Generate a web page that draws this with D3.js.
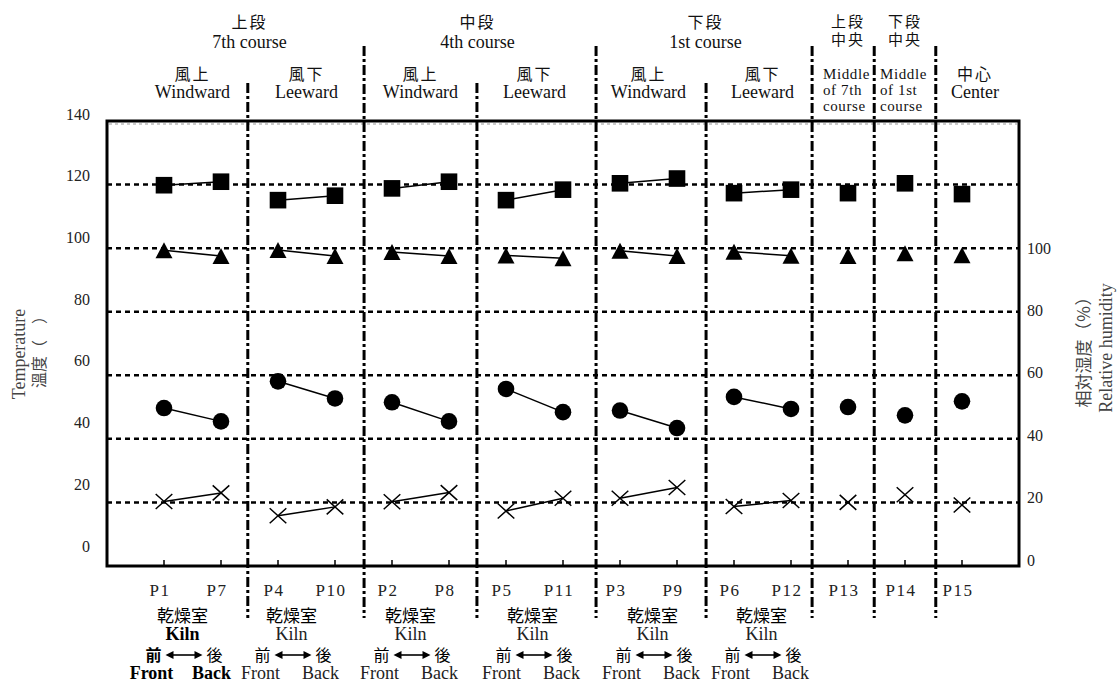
<!DOCTYPE html>
<html><head><meta charset="utf-8">
<script src="https://cdn.jsdelivr.net/npm/d3@7"></script>
<style>html,body{margin:0;padding:0;background:#fff}</style>
</head><body><div id="chart"></div>
<script>
// ---------- data ----------
const points = ["P1","P7","P4","P10","P2","P8","P5","P11","P3","P9","P6","P12","P13","P14","P15"];
const squareVals   = [119.8,120.9,115.1,116.5,118.8,120.9,115.1,118.4,120.4,121.9,117.3,118.4,117.3,120.4,117.0];
const triangleVals = [99.3,97.5,99.4,97.5,98.8,97.5,97.7,96.8,99.2,97.5,98.9,97.6,97.5,98.4,97.8];
const circleVals   = [49.7,45.5,58.1,52.7,51.5,45.5,55.7,48.4,48.9,43.4,53.2,49.4,50.0,47.4,51.8];
const crossVals    = [20.3,23.0,15.8,18.6,20.2,23.1,17.3,21.3,21.3,24.7,18.7,20.6,20.0,22.4,19.2];
const pairs = [[0,1],[2,3],[4,5],[6,7],[8,9],[10,11]];
const leftTicks  = [0,20,40,60,80,100,120,140];
const rightTicks = [0,20,40,60,80,100];
const gridVals   = [20,40,60,80,100,120];
// boundaries between categories, in category-index units
const dividers = [
  {at:1.47, major:false},{at:3.51, major:true},{at:5.49, major:false},{at:7.58, major:true},
  {at:9.51, major:false},{at:11.37, major:true},{at:12.46, major:true},{at:13.54, major:true}];
const courseLabels = [
  {jp:"上段", en:"7th course", span:[0,3]},
  {jp:"中段", en:"4th course", span:[4,7]},
  {jp:"下段", en:"1st course", span:[8,11]}];
const sideLabels = [
  {jp:"風上", en:"Windward", pair:0},{jp:"風下", en:"Leeward", pair:1},
  {jp:"風上", en:"Windward", pair:2},{jp:"風下", en:"Leeward", pair:3},
  {jp:"風上", en:"Windward", pair:4},{jp:"風下", en:"Leeward", pair:5}];
const middleLabels = [
  {jp:["上段","中央"], en:["Middle","of 7th","course"], idx:12},
  {jp:["下段","中央"], en:["Middle","of 1st","course"], idx:13}];
const centerLabel = {jp:"中心", en:"Center", idx:14};
const kilnShift = [-10,-15,-10,-2,4,-1];

// ---------- setup ----------
const W = 1120, H = 683;
const serif = "'Liberation Serif','Times New Roman',serif";
const cjk = "'Noto Sans CJK JP','Noto Sans CJK SC',sans-serif";
const svg = d3.select("#chart").append("svg").attr("width", W).attr("height", H)
  .style("background","#fff");

const x = d3.scalePoint().domain(points).range([107,1019]).padding(1);
const xi = d3.scaleLinear().domain([0, points.length-1]).range([x(points[0]), x(points[points.length-1])]);
const y = d3.scaleLinear().domain([0,140]).range([566,121]);
const yLabL = d3.scaleLinear().domain([0,140]).range([546,114]);
const yLabR = d3.scaleLinear().domain([0,100]).range([560,248]);
const pairMid = p => (x(points[pairs[p][0]]) + x(points[pairs[p][1]]))/2;

// grid lines
svg.append("g").selectAll("line").data(gridVals).join("line")
  .attr("x1",107).attr("x2",1019).attr("y1",d=>y(d)).attr("y2",d=>y(d))
  .attr("stroke","#000").attr("stroke-width",2.5).attr("stroke-dasharray","5,4");
svg.append("line").attr("x1",109).attr("x2",1017).attr("y1",y(140)+3).attr("y2",y(140)+3)
  .attr("stroke","#999").attr("stroke-width",1).attr("stroke-dasharray","3,3");

// dividers
svg.append("g").selectAll("line").data(dividers).join("line")
  .attr("x1",d=>xi(d.at)).attr("x2",d=>xi(d.at))
  .attr("y1",d=>d.major?46:83).attr("y2",618)
  .attr("stroke","#000").attr("stroke-width",3).attr("stroke-dasharray","10,3,3,3");

// frame
svg.append("rect").attr("x",107).attr("y",y(140)).attr("width",1019-107).attr("height",y(0)-y(140))
  .attr("fill","none").attr("stroke","#000").attr("stroke-width",3);

// bottom ticks
svg.append("g").selectAll("line").data(points).join("line")
  .attr("x1",d=>x(d)).attr("x2",d=>x(d)).attr("y1",y(0)).attr("y2",y(0)-6)
  .attr("stroke","#000").attr("stroke-width",1.5);

// connecting lines
const series = [squareVals, triangleVals, circleVals, crossVals];
const line = d3.line().x(d=>x(points[d.i])).y(d=>y(d.v));
series.forEach(vals=>{
  svg.append("g").selectAll("path").data(pairs).join("path")
    .attr("d",p=>line(p.map(i=>({i, v:vals[i]}))))
    .attr("fill","none").attr("stroke","#000").attr("stroke-width",1.5);
});

// markers
const mk = svg.append("g");
mk.selectAll("rect.sq").data(squareVals).join("rect").attr("class","sq")
  .attr("x",(d,i)=>x(points[i])-8.3).attr("y",d=>y(d)-8.3).attr("width",16.6).attr("height",16.6).attr("fill","#000");
mk.selectAll("path.tri").data(triangleVals).join("path").attr("class","tri")
  .attr("d",(d,i)=>{const cx=x(points[i]), cy=y(d); const p=d3.path();
     p.moveTo(cx,cy-8); p.lineTo(cx+8.5,cy+8); p.lineTo(cx-8.5,cy+8); p.closePath(); return p.toString();})
  .attr("fill","#000");
mk.selectAll("circle").data(circleVals).join("circle")
  .attr("cx",(d,i)=>x(points[i])).attr("cy",d=>y(d)).attr("r",8.3).attr("fill","#000");
mk.selectAll("path.cr").data(crossVals).join("path").attr("class","cr")
  .attr("d",(d,i)=>{const cx=x(points[i]), cy=y(d); const p=d3.path();
     p.moveTo(cx-8.3,cy-7.5); p.lineTo(cx+8.3,cy+7.5); p.moveTo(cx+8.3,cy-7.5); p.lineTo(cx-8.3,cy+7.5); return p.toString();})
  .attr("fill","none").attr("stroke","#000").attr("stroke-width",1.5);

// axes
const axL = svg.append("g").attr("transform","translate(90,0)")
  .call(d3.axisLeft(yLabL).tickValues(leftTicks).tickSize(0).tickPadding(0).tickFormat(d3.format("d")));
const axR = svg.append("g").attr("transform","translate(1027,0)")
  .call(d3.axisRight(yLabR).tickValues(rightTicks).tickSize(0).tickPadding(0).tickFormat(d3.format("d")));
[axL,axR].forEach(a=>{
  a.select(".domain").remove();
  a.selectAll("text").attr("font-family",serif).attr("font-size",16).attr("fill","#222");
});

// axis titles
function vtext(cx, cy, txt, fam, size, fill){
  svg.append("text").attr("transform",`translate(${cx},${cy}) rotate(-90)`)
    .attr("text-anchor","middle").attr("dominant-baseline","central")
    .attr("font-family",fam).attr("font-size",size).attr("fill",fill).text(txt);
}
vtext(19,354,"Temperature",serif,18,"#444");
vtext(38,348,"溫度（　）",cjk,16,"#444");
vtext(1082,348,"相対湿度（％）",cjk,17,"#444");
vtext(1106,348,"Relative humidity",serif,18,"#444");

// header helper
function t(xp, yp, txt, fam, size, opts={}){
  return svg.append("text").attr("x",xp).attr("y",yp)
    .attr("text-anchor",opts.anchor||"middle").attr("dominant-baseline","central")
    .attr("font-family",fam).attr("font-size",size).attr("fill",opts.fill||"#111")
    .attr("font-weight",opts.bold?"bold":"normal")
    .attr("letter-spacing",opts.ls||0).text(txt);
}
courseLabels.forEach(c=>{
  const cx = (x(points[c.span[0]]) + x(points[c.span[1]]))/2;
  t(cx,21,c.jp,cjk,16,{ls:2});
  t(cx,42,c.en,serif,18);
});
sideLabels.forEach(s=>{
  const cx = pairMid(s.pair);
  t(cx,73,s.jp,cjk,16,{ls:2});
  t(cx,92,s.en,serif,18);
});
middleLabels.forEach(m=>{
  const cx = x(points[m.idx]);
  t(cx,20,m.jp[0],cjk,15,{ls:2});
  t(cx,38,m.jp[1],cjk,15,{ls:2});
  m.en.forEach((e,k)=>t(cx-25,74+k*16,e,serif,15,{anchor:"start",ls:0.6}));
});
t(x(points[centerLabel.idx])+13,73,centerLabel.jp,cjk,16,{ls:2});
t(x(points[centerLabel.idx])+13,92,centerLabel.en,serif,18);

// bottom category labels
points.forEach((p,i)=>t(x(p)-4,590,p,serif,17,{ls:1.5,fill:"#222"}));

// kiln labels
pairs.forEach((p,g)=>{
  const cx = pairMid(g) + kilnShift[g];
  const bold = g===0;
  const col = bold ? "#000" : "#222";
  t(cx,614,"乾燥室",cjk,17,{fill:"#000"});
  t(cx,634,"Kiln",serif,18,{bold,fill:col});
  t(cx-29,654,"前",cjk,16,{fill:"#000",bold});
  t(cx+32,654,"後",cjk,16,{fill:"#000"});
  t(cx-31,673,"Front",serif,18,{bold,fill:col});
  t(cx+29,673,"Back",serif,18,{bold,fill:col});
  // double arrow
  const a0 = cx-17, a1 = cx+20, ay = 655;
  svg.append("line").attr("x1",a0+6).attr("x2",a1-6).attr("y1",ay).attr("y2",ay)
    .attr("stroke","#000").attr("stroke-width",1.6);
  svg.append("path").attr("d",`M${a0},${ay}L${a0+8},${ay-4}L${a0+8},${ay+4}Z`).attr("fill","#000");
  svg.append("path").attr("d",`M${a1},${ay}L${a1-8},${ay-4}L${a1-8},${ay+4}Z`).attr("fill","#000");
});
</script></body></html>
